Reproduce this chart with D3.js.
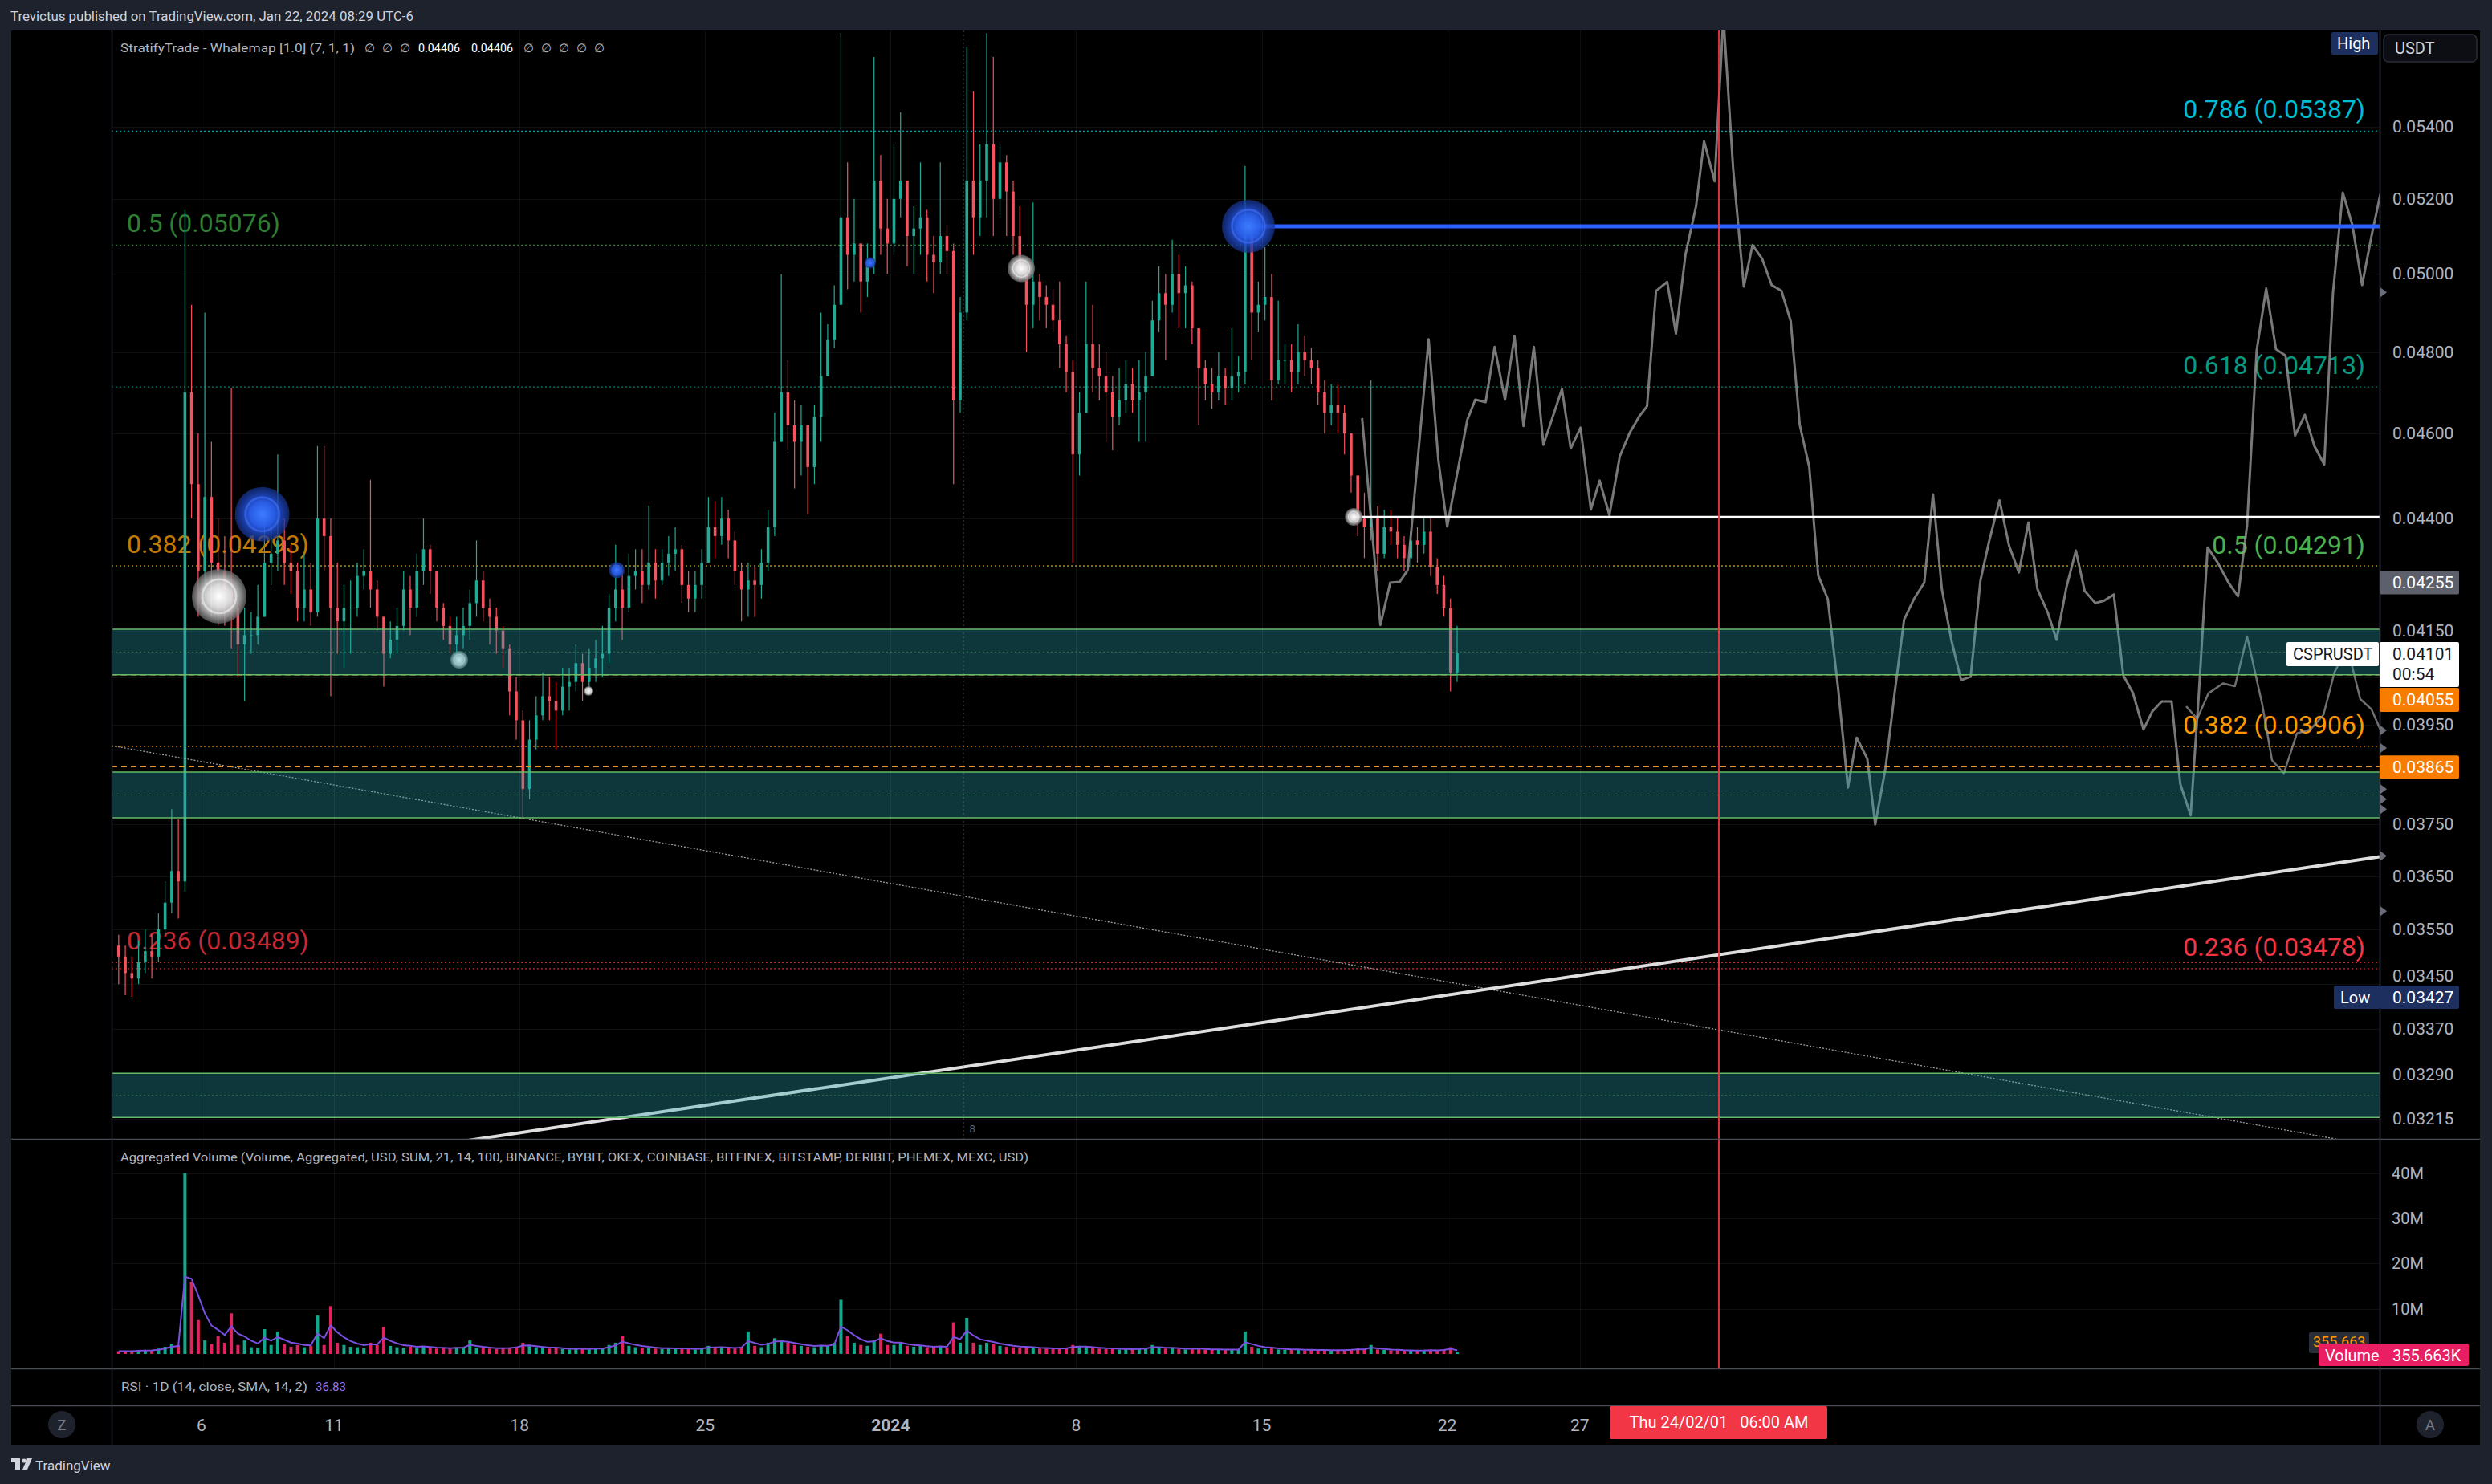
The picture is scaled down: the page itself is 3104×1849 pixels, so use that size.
<!DOCTYPE html>
<html><head><meta charset="utf-8">
<script src="https://cdn.jsdelivr.net/npm/d3@7/dist/d3.min.js"></script>
<style>html,body{margin:0;padding:0;background:#1e222d;overflow:hidden}svg{display:block}</style>
</head><body>
<svg id="c" width="3104" height="1849"></svg>
<script>
// ================= DATA =================
const candleStart = "2023-12-02T18:00:00Z";   // 6h candles
const firstOpen = 0.0352;
const closes = [
 .0350,
 .0347,.0346,.0349,.0351, .0350,.0355,.0360,.0366, .0364,.0470,.0448,.0428, .0445,.0430,.0428,.0424,
 .0420,.0412,.0414,.0414, .0418,.0430,.0432,.0435, .0430,.0428,.0420,.0424, .0419,.0440,.0436,.0420,
 .0417,.0420,.0420,.0427, .0428,.0424,.0418,.0410, .0413,.0416,.0424,.0420, .0428,.0433,.0428,.0420,
 .0416,.0412,.0414,.0416, .0421,.0426,.0420,.0418, .0415,.0411,.0402,.0396, .0382,.0392,.0397,.0401,
 .0400,.0398,.0403,.0404, .0408,.0404,.0407,.0409, .0410,.0420,.0424,.0420, .0427,.0428,.0425,.0430,
 .0426,.0430,.0432,.0433, .0425,.0422,.0425,.0430, .0438,.0436,.0440,.0435, .0428,.0424,.0426,.0425,
 .0430,.0438,.0458,.0470, .0462,.0458,.0462,.0452, .0464,.0474,.0483,.0492, .0515,.0505,.0508,.0498,
 .0503,.0525,.0512,.0508, .0520,.0525,.0510,.0512, .0515,.0505,.0503,.0510, .0506,.0468,.0490,.0525,
 .0515,.0525,.0535,.0520, .0530,.0522,.0510,.0502, .0492,.0498,.0494,.0492, .0488,.0482,.0475,.0455,
 .0465,.0482,.0476,.0474, .0470,.0464,.0468,.0472, .0468,.0470,.0474,.0488, .0495,.0492,.0500,.0495,
 .0497,.0486,.0476,.0472, .0470,.0474,.0471,.0474, .0475,.0510,.0490,.0492, .0494,.0473,.0478,.0478,
 .0475,.0480,.0478,.0476, .0470,.0465,.0467,.0465, .0460,.0450,.0440,.0438, .0440,.0432,.0438,.0437,
 .0434,.0431,.0435,.0434, .0437,.0429,.0425,.0420, .0406,.04101
];
const highs = [
 .0354,
 .0352,.0350,.0353,.0355, .0354,.0358,.0364,.0378, .0376,.0517,.0492,.0460, .0490,.0458,.0440,.0436,
 .0471,.0422,.0420,.0419, .0425,.0441,.0438,.0455, .0440,.0434,.0430,.0432, .0430,.0457,.0457,.0440,
 .0430,.0425,.0426,.0430, .0433,.0449,.0426,.0418, .0417,.0420,.0428,.0427, .0432,.0440,.0434,.0428,
 .0421,.0418,.0418,.0420, .0424,.0435,.0428,.0422, .0420,.0416,.0412,.0405, .0398,.0396,.0401,.0406,
 .0405,.0404,.0407,.0407, .0412,.0410,.0411,.0413, .0416,.0423,.0434,.0428, .0432,.0433,.0433,.0443,
 .0433,.0433,.0436,.0438, .0434,.0428,.0428,.0433, .0445,.0444,.0445,.0442, .0437,.0430,.0430,.0429,
 .0433,.0442,.0465,.0500, .0478,.0468,.0467,.0462, .0467,.0490,.0487,.0497, .0567,.0530,.0520,.0506,
 .0508,.0560,.0532,.0520, .0535,.0544,.0522,.0518, .0530,.0517,.0510,.0530, .0513,.0508,.0494,.0563,
 .0550,.0535,.0567,.0560, .0535,.0532,.0525,.0518, .0502,.0519,.0500,.0497, .0496,.0498,.0484,.0478,
 .0470,.0498,.0492,.0482, .0480,.0474,.0476,.0478, .0476,.0478,.0480,.0493, .0502,.0500,.0509,.0505,
 .0502,.0498,.0486,.0478, .0476,.0480,.0476,.0486, .0479,.0529,.0515,.0498, .0507,.0500,.0493,.0482,
 .0482,.0487,.0484,.0481, .0478,.0473,.0472,.0472, .0467,.0458,.0450,.0446, .0473,.0443,.0442,.0442,
 .0440,.0436,.0437,.0438, .0440,.0440,.0431,.0427, .0422,.0416
];
const lows = [
 .0345,
 .0343,.03427,.0345,.0347, .0346,.0349,.0354,.0358, .0357,.0362,.0440,.0418, .0422,.0418,.0416,.0416,
 .0411,.0405,.0400,.0410, .0412,.0418,.0425,.0428, .0425,.0423,.0417,.0417, .0416,.0418,.0428,.0401,
 .0410,.0407,.0410,.0418, .0424,.0420,.0415,.0403, .0409,.0410,.0415,.0414, .0418,.0425,.0423,.0417,
 .0413,.0410,.0409,.0411, .0413,.0418,.0417,.0412, .0410,.0407,.0397,.0392, .0376,.0380,.0390,.0396,
 .0396,.0390,.0397,.0398, .0402,.0400,.0402,.0404, .0405,.0408,.0417,.0413, .0419,.0424,.0421,.0424,
 .0422,.0425,.0427,.0428, .0421,.0419,.0419,.0422, .0430,.0431,.0434,.0431, .0425,.0417,.0418,.0418,
 .0422,.0428,.0436,.0460, .0456,.0447,.0450,.0441, .0448,.0458,.0474,.0481, .0492,.0496,.0498,.0490,
 .0494,.0500,.0505,.0500, .0505,.0515,.0502,.0500, .0505,.0498,.0495,.0500, .0500,.0448,.0465,.0488,
 .0505,.0510,.0515,.0510, .0515,.0510,.0505,.0498, .0480,.0486,.0488,.0486, .0485,.0476,.0470,.0430,
 .0450,.0468,.0470,.0468, .0458,.0456,.0462,.0465, .0465,.0458,.0458,.0476, .0485,.0478,.0490,.0486,
 .0486,.0482,.0462,.0468, .0466,.0468,.0467,.0468, .0470,.0472,.0478,.0485, .0488,.0468,.0472,.0472,
 .0470,.0472,.0474,.0472, .0467,.0460,.0462,.0460, .0455,.0446,.0436,.0431, .0435,.0428,.0431,.0434,
 .0431,.0428,.0429,.0430, .0432,.0427,.0423,.0418, .0402,.0404
];
// aggregated volume per candle, in millions USD
const volumesM = [
 0.6,
 0.7,0.6,0.8,0.9, 0.8,1.2,1.6,2.2, 2.0,40,16,7.5, 3.0,2.2,4.0,2.5,
 9.0,2.0,3.0,1.5, 1.4,5.5,2.0,5.0, 2.2,1.6,2.0,1.5, 1.8,8.5,2.0,10.6,
 2.5,2.0,1.6,1.5, 1.4,2.5,2.0,6.0, 1.8,1.5,1.4,1.6, 1.3,1.8,1.4,1.2,
 1.3,1.2,1.5,1.4, 3.0,1.4,1.3,1.2, 1.1,1.3,1.4,1.6, 2.5,2.0,1.5,1.3,
 1.2,1.4,1.1,1.0, 1.1,1.2,1.0,1.3, 1.2,2.0,2.5,4.0, 1.8,1.5,1.4,1.3,
 1.2,1.1,1.3,1.2, 1.2,1.1,1.0,1.3, 1.8,1.5,1.6,1.3, 1.2,1.6,5.0,1.8,
 1.5,2.5,3.5,3.0, 2.5,2.0,1.8,1.6, 1.5,2.0,1.8,2.5, 12,4.0,2.5,2.0,
 1.8,3.0,4.5,2.0, 2.0,2.5,1.8,1.6, 1.8,1.5,1.4,1.8, 1.5,7.0,2.5,8.0,
 2.5,2.0,2.5,2.2, 1.8,1.6,1.5,1.4, 1.5,1.4,1.2,1.2, 1.1,1.2,1.3,2.0,
 1.8,1.6,1.3,1.2, 1.1,1.2,1.0,1.1, 1.0,1.2,1.3,2.0, 1.5,1.2,1.4,1.1,
 1.0,1.1,1.3,1.0, 0.9,1.0,0.9,1.0, 1.0,5.0,1.6,1.2, 1.1,1.3,1.0,0.9,
 0.9,1.0,0.8,0.9, 0.8,0.9,0.8,0.8, 0.9,1.0,1.2,1.0, 2.0,1.0,0.9,0.8,
 0.8,0.7,0.8,0.7, 0.8,0.9,0.8,1.0, 1.5,0.356
];

// projected path (grey line), days after anchor
const ghostAnchor = "2024-01-19T00:00:00Z";
const ghostDays = [-0.21,0.48,0.85,1.21,1.51,2.30,2.67,3.00,3.76,4.06,4.45,4.79,5.18,5.54,5.88,6.27,6.63,7.33,7.66,8.03,
 8.42,8.75,9.12,9.51,9.88,10.24,10.54,10.88,11.30,11.63,11.99,12.39,12.69,13.09,13.42,13.79,14.19,14.52,14.88,15.24,
 15.61,15.96,16.30,16.66,17.00,17.36,17.75,18.12,18.45,18.85,19.15,19.54,19.88,20.24,20.61,21.00,21.33,21.66,22.03,22.39,
 22.75,23.12,23.45,23.84,24.20,24.57,24.93,25.27,25.66,25.99,26.36,26.72,27.05,27.45,27.78,28.15,28.51,28.87,29.27,29.60,
 29.96,30.33,30.66,31.05,31.36,31.69,32.06,32.48,32.84,33.18,33.54,33.90,34.27,34.63,34.99,35.36,35.72,36.09,36.42,36.79,
 37.15,37.52,37.88,38.21];
const ghostPrices = [.04637,.04162,.04255,.04257,.04283,.04832,.04535,.04382,.04633,.04682,.04676,.04813,.04682,.0484,.04618,.04813,.04573,.04708,.04564,.04614,
 .04421,.04488,.04408,.04545,.04601,.04641,.04666,.04956,.04979,.04846,.05051,.0518,.05359,.05248,.0572,.05281,.04967,.05076,.0504,.04971,
 .04956,.04878,.04621,.0452,.04271,.04219,.04026,.03823,.03924,.03881,.0375,.03863,.04016,.04174,.04219,.04255,.04456,.04242,.04127,.04044,
 .04051,.0426,.04349,.04442,.04338,.04278,.04391,.04241,.04189,.0413,.04244,.04327,.04237,.0421,.04215,.04229,.04054,.04017,.03941,.03978,
 .03999,.03999,.0383,.03768,.04016,.04334,.04301,.04255,.04225,.04386,.04803,.04962,.04807,.04791,.04595,.04645,.0457,.04526,.0495,.05217,
 .0513,.04971,.05102,.05213];
const ghost2Days = [30.88,31.30,31.72,32.27,32.72,33.18,33.75,34.12,34.57,35.06,35.57,36.06,36.48,36.79,37.03,37.45,37.87,38.27];
const ghost2Prices = [.03989,.03963,.04016,.04037,.04031,.04137,.03993,.03878,.03852,.03933,.03941,.03971,.04061,.04094,.04099,.04004,.03983,.03933];

// fibonacci levels
const fibLeftLevels = ["0.5","0.382","0.236"];
const fibLeftPrices = [0.05076,0.04293,0.03489];
const fibRightLevels = ["0.786","0.618","0.5","0.382","0.236"];
const fibRightPrices = [0.05387,0.04713,0.04291,0.03906,0.03478];

// zones
const zoneLow  = [0.04055,0.03763,0.03218];
const zoneHigh = [0.04153,0.03854,0.03293];

// trend lines (two anchors each)
const trendUp   = [["2023-12-16T00:00:00Z",0.03179],["2024-02-26T00:00:00Z",0.03686]];
const trendDown = [["2023-12-03T00:00:00Z",0.03904],["2024-02-24T00:00:00Z",0.03186]];
// horizontal rays
const blueRay  = ["2024-01-14T12:00:00Z",0.05126];
const whiteRay = ["2024-01-18T11:20:00Z",0.04404];
const redLineTime = "2024-02-01T06:00:00Z";
const markerTime = "2024-01-03T18:00:00Z";

// whale bubbles
const bubbleTimes = ["2023-12-08T07:00:00Z","2023-12-06T16:00:00Z","2023-12-15T17:20:00Z","2023-12-20T14:30:00Z","2023-12-21T16:00:00Z","2023-12-31T05:30:00Z","2024-01-05T22:20:00Z","2024-01-14T12:00:00Z","2024-01-18T11:20:00Z"];
const bubblePrices = [0.0441,0.04225,0.04087,0.04021,0.04283,0.05029,0.05014,0.05126,0.04404];
const bubbleSizes  = [34,34,11,6,10,7,17,33,11];
const bubbleKinds  = ["buy","sell","sell","sell","buy","buy","sell","buy","sell"];

// axes
const priceTicks = [0.054,0.052,0.05,0.048,0.046,0.044,0.0415,0.0395,0.0375,0.0365,0.0355,0.0345,0.0337,0.0329,0.03215];
const gridExtra = [0.0405,0.0385];
const timeTicks = ["2023-12-06","2023-12-11","2023-12-18","2023-12-25","2024-01-01","2024-01-08","2024-01-15","2024-01-22","2024-01-27"];
const timeLabels = ["6","11","18","25","2024","8","15","22","27"];
const volTicks = [10,20,30,40];
const alertPrices = [0.04952,0.03988,0.03939,0.03903,0.0382,0.038,0.0378,0.03689,0.03584];
const lastPrice = 0.04101, prevMark = 0.04255, orange1 = 0.04055, orange2 = 0.03865, lowPrice = 0.03427;

// ================= LAYOUT =================
const W=3104,H=1849;
const L=139,R=2964,PT=38,PB=1419,VT=1420,VB=1705,RB=1751,AB=1800;
const FONT="Roboto, 'Liberation Sans', Arial, sans-serif";
const svg=d3.select("#c");
const x=d3.scaleUtc().domain([new Date("2023-12-06T00:00:00Z"),new Date("2024-02-01T06:00:00Z")]).range([251,2141]);
const y=d3.scaleLog().domain([0.03182,0.05678]).range([PB,PT]);
const yv=d3.scaleLinear().domain([0,47.4]).range([1687,VT]);
const HOUR=3600e3, DAY=24*HOUR;

svg.append("rect").attr("width",W).attr("height",H).attr("fill","#1e222d");
svg.append("rect").attr("x",14).attr("y",PT).attr("width",3089-14).attr("height",AB-PT).attr("fill","#000");

const defs=svg.append("defs");
defs.append("clipPath").attr("id","cp").append("rect").attr("x",L).attr("y",PT).attr("width",R-L).attr("height",PB-PT);
defs.append("clipPath").attr("id","cv").append("rect").attr("x",L).attr("y",VT).attr("width",R-L).attr("height",VB-VT);
const yLow=y(lowPrice);
function radial(id,stops){
  const g=defs.append("radialGradient").attr("id",id);
  stops.forEach(s=>g.append("stop").attr("offset",s[0]).attr("stop-color",s[1]).attr("stop-opacity",s[2]));
}
radial("gBlue",[["0%","#3c7cff",1],["45%","#2a60f0",0.95],["70%","#1f48c4",0.85],["100%","#16338a",0.7]]);
radial("gGrey",[["0%","#ffffff",1],["40%","#e6e6e6",0.95],["70%","#b9b9b9",0.9],["85%","#8c8c8c",0.85],["100%","#6a6a6a",0.7]]);

const gp=svg.append("g").attr("clip-path","url(#cp)");
const gv=svg.append("g").attr("clip-path","url(#cv)");

// grid
gp.selectAll(".hg").data(priceTicks.concat(gridExtra)).join("line")
  .attr("x1",L).attr("x2",R).attr("y1",d=>Math.round(y(d))+0.5).attr("y2",d=>Math.round(y(d))+0.5)
  .attr("stroke","rgba(255,255,255,0.06)");
const tDates=timeTicks.map(s=>new Date(s+"T00:00:00Z"));
svg.selectAll(".vg").data(tDates).join("line")
  .attr("x1",d=>Math.round(x(d))+0.5).attr("x2",d=>Math.round(x(d))+0.5).attr("y1",PT).attr("y2",VB)
  .attr("stroke","rgba(255,255,255,0.06)");
gv.selectAll(".vhg").data(volTicks).join("line")
  .attr("x1",L).attr("x2",R).attr("y1",d=>Math.round(yv(d))+0.5).attr("y2",d=>Math.round(yv(d))+0.5)
  .attr("stroke","rgba(255,255,255,0.06)");

// fib lines & labels
const fibLeftColors=["#2f7d32","#c27a05","#c62833"];
const fibRightColors=["#00bcd4","#089981","#4caf50","#ff9800","#f23645"];
fibLeftPrices.forEach((p,i)=>{
  gp.append("line").attr("x1",L).attr("x2",R).attr("y1",y(p)).attr("y2",y(p))
    .attr("stroke",fibLeftColors[i]).attr("stroke-width",1.3).attr("stroke-dasharray","2,3");
});
fibRightPrices.forEach((p,i)=>{
  gp.append("line").attr("x1",L).attr("x2",R).attr("y1",y(p)).attr("y2",y(p))
    .attr("stroke",fibRightColors[i]).attr("stroke-width",1.3).attr("stroke-dasharray","2,3").attr("opacity",0.85);
});
fibLeftPrices.forEach((p,i)=>{
  gp.append("text").attr("x",158).attr("y",y(p)-16).attr("fill",fibLeftColors[i])
    .attr("font-family",FONT).attr("font-size",32)
    .text(`${fibLeftLevels[i]} (${p.toFixed(5)})`);
});
fibRightPrices.forEach((p,i)=>{
  gp.append("text").attr("x",2946).attr("y",y(p)-16).attr("fill",fibRightColors[i])
    .attr("text-anchor","end").attr("font-family",FONT).attr("font-size",32)
    .text(`${fibRightLevels[i]} (${p.toFixed(5)})`);
});

// candles
const t0=Date.parse(candleStart);
const candles=closes.map((c,i)=>{
  const o=i?closes[i-1]:firstOpen;
  return {t:new Date(t0+i*6*HOUR+3*HOUR),o,c,h:Math.max(highs[i],o,c),l:Math.min(lows[i],o,c),v:volumesM[i]};
});
const UP="#22ab94", DN="#f7525f";
const cg=gp.append("g");
cg.selectAll(".wk").data(candles).join("line")
  .attr("x1",d=>x(d.t)).attr("x2",d=>x(d.t)).attr("y1",d=>y(d.h)).attr("y2",d=>y(d.l))
  .attr("stroke",d=>d.c>=d.o?UP:DN).attr("stroke-width",1.2);
cg.selectAll(".bd").data(candles).join("rect")
  .attr("x",d=>x(d.t)-1.8).attr("width",3.6)
  .attr("y",d=>Math.min(y(d.o),y(d.c))).attr("height",d=>Math.max(1,Math.abs(y(d.o)-y(d.c))))
  .attr("fill",d=>d.c>=d.o?UP:DN);

// trend lines
function extLine(a,b){
  const x1=x(new Date(a[0])),y1=y(a[1]),x2=x(new Date(b[0])),y2=y(b[1]);
  const m=(y2-y1)/(x2-x1);
  return [[L,y1+m*(L-x1)],[R,y1+m*(R-x1)]];
}
const td=extLine(trendDown[0],trendDown[1]);
gp.append("line").attr("x1",td[0][0]).attr("y1",td[0][1]).attr("x2",td[1][0]).attr("y2",td[1][1])
  .attr("stroke","rgba(225,225,225,0.7)").attr("stroke-width",1.3).attr("stroke-dasharray","2,2");

// ghost projections
const ga=Date.parse(ghostAnchor);
const gl=d3.line().x(d=>x(new Date(ga+d[0]*DAY))).y(d=>y(d[1]));
gp.append("path").attr("d",gl(ghostDays.map((d,i)=>[d,ghostPrices[i]])))
  .attr("fill","none").attr("stroke","rgba(150,150,150,0.8)").attr("stroke-width",3).attr("stroke-linejoin","round");
gp.append("path").attr("d",gl(ghost2Days.map((d,i)=>[d,ghost2Prices[i]])))
  .attr("fill","none").attr("stroke","rgba(150,150,150,0.75)").attr("stroke-width",2.5).attr("stroke-linejoin","round");

const tu=extLine(trendUp[0],trendUp[1]);
gp.append("line").attr("x1",tu[0][0]).attr("y1",tu[0][1]).attr("x2",tu[1][0]).attr("y2",tu[1][1])
  .attr("stroke","#dedede").attr("stroke-width",4);

// horizontal rays
gp.append("line").attr("x1",x(new Date(whiteRay[0]))).attr("x2",R).attr("y1",y(whiteRay[1])).attr("y2",y(whiteRay[1]))
  .attr("stroke","#ffffff").attr("stroke-width",2.5);
gp.append("line").attr("x1",x(new Date(blueRay[0]))).attr("x2",R).attr("y1",y(blueRay[1])).attr("y2",y(blueRay[1]))
  .attr("stroke","#2962ff").attr("stroke-width",5);

// price lines
[orange1,orange2].forEach(p=>{
  gp.append("line").attr("x1",L).attr("x2",R).attr("y1",y(p)).attr("y2",y(p))
    .attr("stroke","#f7931a").attr("stroke-width",1.5).attr("stroke-dasharray","7,5");
});

// bubbles
bubbleTimes.forEach((t,i)=>{
  const cx=x(new Date(t)), cy=y(bubblePrices[i]), r=bubbleSizes[i];
  const buy=bubbleKinds[i]==="buy";
  gp.append("circle").attr("cx",cx).attr("cy",cy).attr("r",r).attr("fill",buy?"url(#gBlue)":"url(#gGrey)");
  gp.append("circle").attr("cx",cx).attr("cy",cy).attr("r",r*0.62).attr("fill","none")
    .attr("stroke",buy?"rgba(70,120,255,0.5)":"rgba(255,255,255,0.5)").attr("stroke-width",Math.max(1,r*0.08));
});

// zones
zoneLow.forEach((lo,i)=>{
  const hi=zoneHigh[i];
  gp.append("rect").attr("x",L).attr("width",R-L).attr("y",y(hi)).attr("height",y(lo)-y(hi))
    .attr("fill","rgba(38,166,180,0.33)");
  [hi,lo].forEach(p=>gp.append("line").attr("x1",L).attr("x2",R).attr("y1",y(p)).attr("y2",y(p))
    .attr("stroke","#66bb6a").attr("stroke-width",1.5));
  const mid=Math.sqrt(lo*hi);
  gp.append("line").attr("x1",L).attr("x2",R).attr("y1",y(mid)).attr("y2",y(mid))
    .attr("stroke","rgba(102,187,106,0.45)").attr("stroke-dasharray","2,3");
});

// dotted marker line
const mx=x(new Date(markerTime));
gp.append("line").attr("x1",mx).attr("x2",mx).attr("y1",PT).attr("y2",PB)
  .attr("stroke","rgba(120,123,134,0.55)").attr("stroke-dasharray","2,3");
gp.append("text").attr("x",mx+11).attr("y",PB-8).attr("fill","#5d606b").attr("font-family",FONT)
  .attr("font-size",13).attr("text-anchor","middle").text("8");

// volume
gv.selectAll(".vb").data(candles).join("rect")
  .attr("x",d=>x(d.t)-2).attr("width",4).attr("y",d=>yv(d.v)).attr("height",d=>yv(0)-yv(d.v))
  .attr("fill",d=>d.c>=d.o?"#12a88e":"#e0245e");
let ema=null;
const maPts=candles.map(d=>{ema=ema==null?d.v:ema+(d.v-ema)*0.4;return [x(d.t),yv(ema)];});
gv.append("path").attr("d",d3.line()(maPts)).attr("fill","none").attr("stroke","#7b4fe0").attr("stroke-width",2);

// red vertical line
const rx=x(new Date(redLineTime));
svg.append("line").attr("x1",rx).attr("x2",rx).attr("y1",PT).attr("y2",VB)
  .attr("stroke","#f23645").attr("stroke-width",2).attr("opacity",0.9);

// separators
svg.append("line").attr("x1",L+0.5).attr("x2",L+0.5).attr("y1",PT).attr("y2",AB).attr("stroke","#2a2e39").attr("stroke-width",1.5);
svg.append("line").attr("x1",R+0.5).attr("x2",R+0.5).attr("y1",PT).attr("y2",AB).attr("stroke","#4a4d57").attr("stroke-width",1.5);
[PB+0.5,VB+0.5,RB+0.5].forEach(v=>svg.append("line").attr("x1",14).attr("x2",3089).attr("y1",v).attr("y2",v)
  .attr("stroke","#4a4d57").attr("stroke-width",1.5));

// ============ TEXTS ============
svg.append("text").attr("x",13).attr("y",26).attr("fill","#d1d4dc").attr("font-family",FONT)
  .attr("font-size",16).attr("textLength",502).attr("lengthAdjust","spacingAndGlyphs")
  .text("Trevictus published on TradingView.com, Jan 22, 2024 08:29 UTC-6");

const hdr=svg.append("g").attr("font-family",FONT).attr("font-size",14.5);
hdr.append("text").attr("x",150).attr("y",65).attr("fill","#b2b5be").attr("textLength",292).attr("lengthAdjust","spacingAndGlyphs")
  .text("StratifyTrade - Whalemap [1.0] (7, 1, 1)");
[454,476,498,652,674,696,718,740].forEach(px=>hdr.append("text").attr("x",px).attr("y",65).attr("fill","#b2b5be").text("∅"));
[521,587].forEach(px=>hdr.append("text").attr("x",px).attr("y",65).attr("fill","#ffffff").attr("textLength",52).attr("lengthAdjust","spacingAndGlyphs").text("0.04406"));

svg.append("text").attr("x",150).attr("y",1447).attr("fill","#b2b5be").attr("font-family",FONT).attr("font-size",14.5)
  .attr("textLength",1131).attr("lengthAdjust","spacingAndGlyphs")
  .text("Aggregated Volume (Volume, Aggregated, USD, SUM, 21, 14, 100, BINANCE, BYBIT, OKEX, COINBASE, BITFINEX, BITSTAMP, DERIBIT, PHEMEX, MEXC, USD)");
svg.append("text").attr("x",151).attr("y",1733).attr("fill","#b2b5be").attr("font-family",FONT).attr("font-size",14.5)
  .attr("textLength",232).attr("lengthAdjust","spacingAndGlyphs").text("RSI · 1D (14, close, SMA, 14, 2)");
svg.append("text").attr("x",393).attr("y",1733).attr("fill","#9575e8").attr("font-family",FONT).attr("font-size",14.5)
  .attr("textLength",38).attr("lengthAdjust","spacingAndGlyphs").text("36.83");

// time axis
svg.selectAll(".tl").data(tDates).join("text")
  .attr("x",d=>x(d)).attr("y",1783).attr("text-anchor","middle").attr("fill","#b2b5be")
  .attr("font-family",FONT).attr("font-size",21).attr("font-weight",(d,i)=>timeLabels[i]==="2024"?700:400)
  .text((d,i)=>timeLabels[i]);
svg.append("rect").attr("x",rx-136).attr("y",RB+1).attr("width",271).attr("height",41).attr("rx",2).attr("fill","#f23645");
svg.append("text").attr("x",rx).attr("y",1779).attr("text-anchor","middle").attr("fill","#fff")
  .attr("font-family",FONT).attr("font-size",20).attr("xml:space","preserve").text("Thu 24/02/01   06:00 AM");

// round buttons
[[77,"Z"],[3027,"A"]].forEach(([cx,t])=>{
  svg.append("circle").attr("cx",cx).attr("cy",1775).attr("r",17).attr("fill","#1e222d");
  svg.append("text").attr("x",cx).attr("y",1782).attr("text-anchor","middle").attr("fill","#787b86")
    .attr("font-family",FONT).attr("font-size",19).text(t);
});

// price axis labels (a label that would sit under the "Low" box is lifted just above it)
svg.selectAll(".pl").data(priceTicks).join("text")
  .attr("x",2980).attr("y",d=>{const c=y(d); return (Math.abs(c-yLow)<26 ? yLow-26 : c)+7;})
  .attr("fill","#b2b5be").attr("font-family",FONT).attr("font-size",21)
  .text(d=>d.toFixed(5));
// alert markers
svg.selectAll(".am").data(alertPrices).join("path")
  .attr("d",d=>`M${R+1},${y(d)-6} L${R+9},${y(d)} L${R+1},${y(d)+6} Z`).attr("fill","#6a6d78");
// volume axis labels
svg.selectAll(".vl").data(volTicks).join("text")
  .attr("x",2979).attr("y",d=>yv(d)+7).attr("fill","#b2b5be").attr("font-family",FONT).attr("font-size",20)
  .text(d=>d+"M");

function box(x0,y0,w,h,fill){return svg.append("rect").attr("x",x0).attr("y",y0).attr("width",w).attr("height",h).attr("fill",fill).attr("rx",2);}
function txt(x0,y0,t,fill,size){return svg.append("text").attr("x",x0).attr("y",y0).attr("fill",fill).attr("font-family",FONT).attr("font-size",size||21).text(t);}

// previous close label
const yPrev=y(prevMark);
box(R,yPrev-14.5,99,29,"#5d606b"); txt(2980,yPrev+7,prevMark.toFixed(5),"#fff");
// last price
const yLast=y(lastPrice);
box(2848,yLast-14,115,30,"#ffffff"); txt(2856,yLast+8,"CSPRUSDT","#131722",20);
box(R,yLast-14,99,56,"#ffffff"); txt(2980,yLast+8,lastPrice.toFixed(5),"#131722"); txt(2980,yLast+33,"00:54","#131722");
// orange labels
box(R,yLast+43,99,30,"#f77c00"); txt(2980,yLast+65,orange1.toFixed(5),"#fff");
const yO2=y(orange2);
box(R,yO2-14,99,29,"#f77c00"); txt(2980,yO2+8,orange2.toFixed(5),"#fff");
// low
box(2907,yLow-14,156,29,"#1c2f5e"); txt(2915,yLow+8,"Low","#fff",20); txt(2980,yLow+8,lowPrice.toFixed(5),"#fff");
// high
box(2904,40,58,28,"#1c2f5e"); txt(2911,61,"High","#fff",20);
// currency button
svg.append("rect").attr("x",2969).attr("y",43).attr("width",116).attr("height",34).attr("rx",6)
  .attr("fill","#0c0e14").attr("stroke","#2a2e39").attr("stroke-width",1.5);
txt(2983,67,"USDT","#d1d4dc",20);
// volume labels
box(2876,1660,75,26,"#2a2e39"); txt(2881,1678,"355.663","#ff9800",18);
box(2888,1674,187,28,"#e91e63"); txt(2896,1696,"Volume","#fff",20); txt(2980,1696,"355.663K","#fff",20);

// footer logo
const lg=svg.append("g").attr("fill","#d1d4dc");
lg.append("rect").attr("x",14).attr("y",1817).attr("width",11).attr("height",5);
lg.append("rect").attr("x",19).attr("y",1817).attr("width",6).attr("height",14);
lg.append("circle").attr("cx",30).attr("cy",1820).attr("r",2.6);
lg.append("path").attr("d","M34,1817 L40,1817 L34,1831 L28,1831 Z");
txt(44,1832,"TradingView","#d1d4dc",17);
</script>
</body></html>
